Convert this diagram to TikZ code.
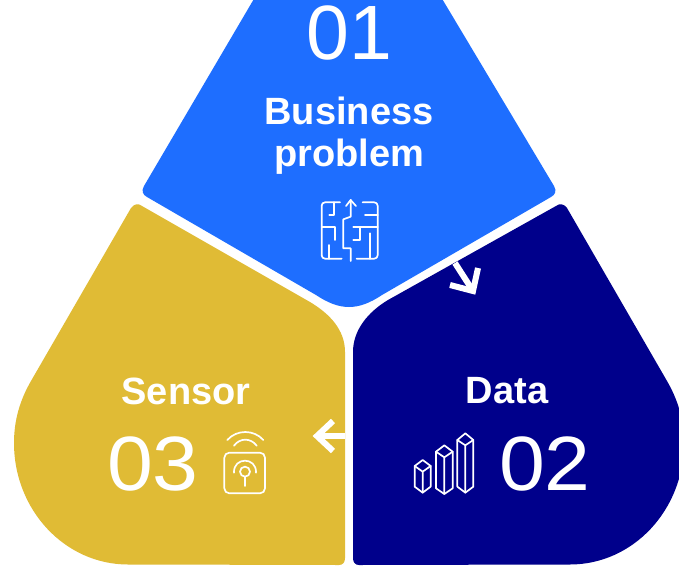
\documentclass[tikz,border=0pt]{standalone}
\usepackage{fontspec}
\setmainfont{Liberation Sans}
\definecolor{bluepanel}{HTML}{1E6EFF}
\definecolor{navypanel}{HTML}{00008B}
\definecolor{yellowpanel}{HTML}{E0BB35}
\tikzset{
  numtext/.style={text=white,font=\fontsize{77}{77}\selectfont,inner sep=0pt},
  headtext/.style={text=white,font=\fontsize{38}{42}\selectfont\bfseries,align=center,inner sep=0pt},
  icon/.style={draw=white,line width=1.7pt,line join=round,line cap=round},
  flow/.style={draw=white,line width=6pt,line join=miter}
}
\begin{document}
\begin{tikzpicture}[x=1pt,y=-1pt]
\useasboundingbox (0,0) rectangle (679,578);
\fill[white] (0,0) rectangle (679,578);
\begin{scope}
\clip (0,0) rectangle (679,578);
% blue panel
\fill[bluepanel] (258,-8) -- (144,186) .. controls (141,191) and (143,195) .. (147,197)
  -- (316,295) .. controls (340,311) and (358,311) .. (382,295)
  -- (551,197) .. controls (555,195) and (557,191) .. (554,186) -- (438,-8) -- cycle;
% yellow panel
\fill[yellowpanel] (131,208) .. controls (134,204) and (138,203) .. (142,206)
  -- (310,302) .. controls (330,314) and (345,330) .. (345,352)
  -- (345,558) .. controls (345,562) and (343,565) .. (339,565)
  -- (128,564.5) .. controls (65,564.5) and (14,510) .. (14,443)
  .. controls (14,420) and (20,400) .. (31,381) -- cycle;
% navy panel
\fill[navypanel] (567,208) .. controls (564,204) and (560,203) .. (556,206)
  -- (388,300) .. controls (368,312) and (353,330) .. (353,352)
  -- (353,558) .. controls (353,562) and (355,565) .. (359,565)
  -- (570,564.5) .. controls (633,564.5) and (684,510) .. (684,443)
  .. controls (684,420) and (678,400) .. (667,381) -- cycle;
\end{scope}
% text
\node[numtext] (n1) at (349.5,33) {01};
\node[headtext] (h1) at (349,136) {Business\\problem};
\node[headtext] (h3) at (186,391) {Sensor};
\node[numtext,xscale=1.07] (n3) at (153,464) {03};
\node[headtext] (h2) at (507,391) {Data};
\node[numtext,xscale=1.07] (n2) at (545,464) {02};
% flow arrows
\coordinate (a1s) at (455,263); \coordinate (a1t) at (473,291);
\coordinate (a1l) at (450,285); \coordinate (a1r) at (478,268);
\draw[flow] (a1s) -- (a1t);
\draw[flow] (a1l) -- (a1t) -- (a1r);
\coordinate (a2s) at (345,436); \coordinate (a2t) at (317,436);
\coordinate (a2u) at (333,421); \coordinate (a2d) at (333,451);
\draw[flow] (a2s) -- (a2t);
\draw[flow] (a2u) -- (a2t) -- (a2d);
% maze icon
\begin{scope}[shift={(280,180)},x=0.3333pt,y=-0.3333pt]
\draw[icon] (180,67) -- (135,67) arc[start angle=90,end angle=180,x radius=10,y radius=-10] -- (125,226) arc[start angle=180,end angle=270,x radius=10,y radius=-10] -- (185,236);
\draw[icon] (163,67) -- (163,105) -- (148,105);
\draw[icon] (125,140) -- (165,140) -- (165,180);
\draw[icon] (147,195) -- (147,236);
\draw[icon] (248,67) -- (283,67) arc[start angle=90,end angle=0,x radius=10,y radius=-10] -- (293,226) arc[start angle=0,end angle=-90,x radius=10,y radius=-10] -- (230,236);
\draw[icon] (293,105) -- (255,105);
\draw[icon] (293,142) -- (220,142);
\draw[icon] (240,142) -- (240,180) -- (220,180);
\draw[icon] (270,160) -- (270,236);
\draw[icon] (212,243) -- (212,205) -- (190,205) -- (190,118) -- (212,110) -- (212,60);
\draw[icon] (198,78) -- (212,60) -- (228,78);
\end{scope}
% sensor icon
\begin{scope}[shift={(210,410)},x=0.3333pt,y=-0.3333pt]
\draw[icon,rounded corners=5pt] (43,128) rectangle (165,250);
\draw[icon] (52,90) .. controls (80,58) and (132,58) .. (160,90);
\draw[icon] (72,107) .. controls (90,83) and (122,83) .. (140,107);
\draw[icon] (105,185) circle[x radius=15,y radius=-15];
\draw[icon] (105,200) -- (105,228);
\draw[icon] (72,188) .. controls (70,140) and (140,140) .. (138,188);
\end{scope}
% data icon
\begin{scope}[shift={(400,420)},x=0.3333pt,y=-0.3333pt]
\draw[icon] (44,138) -- (68,120) -- (92,138) -- (92,200) -- (68,218) -- (44,200) -- cycle;
\draw[icon] (44,138) -- (68,155) -- (92,138) (68,155) -- (68,218);
\draw[icon] (108,95) -- (133,76) -- (158,95) -- (158,205) -- (133,222) -- (108,205) -- cycle;
\draw[icon] (108,95) -- (133,112) -- (158,95) (133,112) -- (133,222);
\draw[icon] (172,60) -- (196,40) -- (220,60) -- (220,200) -- (196,218) -- (172,200) -- cycle;
\draw[icon] (172,60) -- (196,76) -- (220,60) (196,76) -- (196,218);
\end{scope}
\end{tikzpicture}
\end{document}
